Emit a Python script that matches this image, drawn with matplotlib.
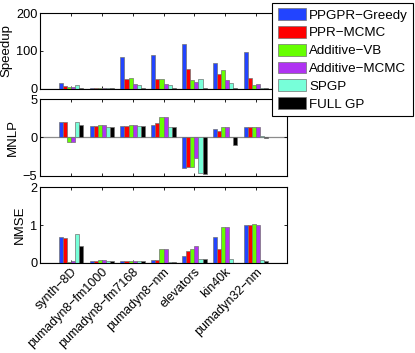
import numpy as np
import matplotlib
matplotlib.use("Agg")
import matplotlib.pyplot as plt


datasets = ["synth\u22128D", "pumadyn8\u2212fm1000", "pumadyn8\u2212fm7168",
            "pumadyn8\u2212nm", "elevators", "kin40k", "pumadyn32\u2212nm"]
methods = ["PPGPR\u2212Greedy", "PPR\u2212MCMC", "Additive\u2212VB",
           "Additive\u2212MCMC", "SPGP", "FULL GP"]
colors = ["#2244ff", "#ff0000", "#66ff00", "#b033f2", "#77ffd9", "#000000"]

# one row per method, one value per dataset
speedup = [
    [14, 1, 84, 89, 118, 69, 96],
    [6, 1, 26, 25, 51, 38, 27],
    [3.5, 1, 27, 25, 22, 48, 10],
    [3.5, 1, 12, 11, 17, 22, 11],
    [9, 1, 9, 9, 26, 16, 1],
    [0.5, 0.5, 0.5, 0.5, 0.5, 0.5, 0.5],
]
mnlp = [
    [1.96, 1.52, 1.52, 1.65, -4.0, 1.13, 1.4],
    [1.96, 1.52, 1.52, 1.87, -3.8, 0.9, 1.4],
    [-0.6, 1.65, 1.6, 2.65, -3.8, 1.35, 1.4],
    [-0.6, 1.65, 1.6, 2.65, -2.7, 1.35, 1.4],
    [1.96, 1.43, 1.52, 1.35, -4.7, 0.1, 0.15],
    [1.57, 1.43, 1.52, 1.35, -4.75, -0.95, -0.05],
]
nmse = [
    [0.70, 0.05, 0.05, 0.07, 0.19, 0.70, 1.0],
    [0.66, 0.05, 0.05, 0.07, 0.32, 0.36, 1.0],
    [0.03, 0.07, 0.065, 0.36, 0.37, 0.94, 1.02],
    [0.04, 0.07, 0.065, 0.36, 0.46, 0.94, 1.0],
    [0.78, 0.05, 0.05, 0.03, 0.10, 0.10, 0.07],
    [0.45, 0.05, 0.05, 0.03, 0.10, 0.005, 0.04],
]

plt.rcParams["font.family"] = ["Liberation Sans", "DejaVu Sans"]
plt.rcParams["font.size"] = 9.2

fig = plt.figure(figsize=(4.15, 3.53), dpi=100)

left, width = 0.097, 0.594
panels = [
    ("Speedup", speedup, (0, 200), [0, 100, 200], 0.749, 0.963),
    ("MNLP", mnlp, (-5, 5), [-5, 0, 5], 0.502, 0.719),
    ("NMSE", nmse, (0, 2), [0, 1, 2], 0.255, 0.469),
]

x = np.arange(1, len(datasets) + 1)
bar_w = 0.8 / len(methods)

for i, (name, values, ylim, yticks, bottom, top) in enumerate(panels):
    ax = fig.add_axes([left, bottom, width, top - bottom])
    ax.axhline(0, color="0.55", linewidth=0.9, zorder=1)
    for k, method in enumerate(methods):
        offset = (k - (len(methods) - 1) / 2) * bar_w
        ax.bar(
            x + offset,
            values[k],
            width=bar_w,
            color=colors[k],
            edgecolor="0.45",
            linewidth=0.5,
            label=method,
            zorder=2,
        )
    ax.set_xlim(0, 8)
    ax.set_ylim(*ylim)
    ax.set_yticks(yticks)
    ax.set_xticks(x)
    ax.set_ylabel(name, fontsize=9.5, labelpad=3)
    ax.tick_params(direction="in", length=2.5, width=0.6,
                   top=True, right=True, pad=2)
    for spine in ax.spines.values():
        spine.set_linewidth(0.8)
    if i < 2:
        ax.set_xticklabels([])
    else:
        ax.set_xticklabels(datasets, rotation=45, ha="right",
                           rotation_mode="anchor", fontsize=9.0)
    if i == 0:
        handles, labels = ax.get_legend_handles_labels()

leg = fig.legend(
    handles,
    labels,
    loc="upper right",
    bbox_to_anchor=(0.996, 0.992),
    frameon=True,
    fancybox=False,
    edgecolor="black",
    framealpha=1,
    fontsize=9.6,
    handlelength=2.1,
    handleheight=1.0,
    handletextpad=0.25,
    labelspacing=0.32,
    borderpad=0.4,
    borderaxespad=0,
)
leg.get_frame().set_linewidth(0.8)

fig.savefig("out.png", dpi=100)
